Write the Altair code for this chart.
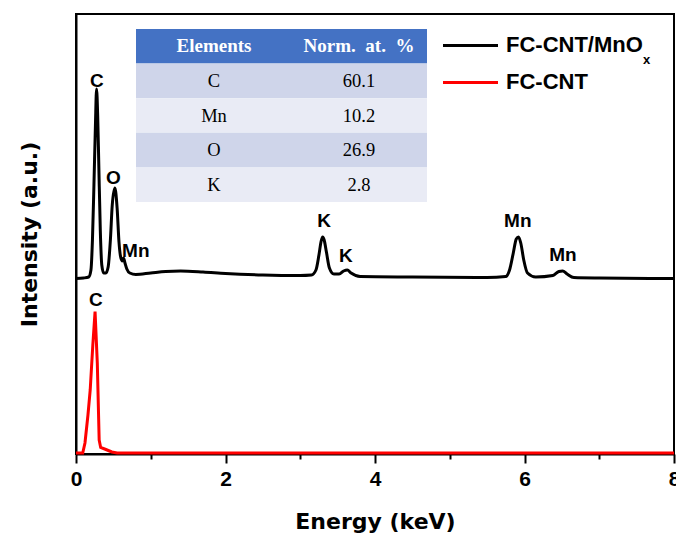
import altair as alt
import pandas as pd

# ---------------- data ----------------
black_energy = [0.0, 0.1, 0.17, 0.2, 0.22, 0.24, 0.26, 0.275, 0.29, 0.305, 0.325, 0.345, 0.37, 0.4,
                0.43, 0.46, 0.485, 0.52, 0.55, 0.575, 0.6, 0.62, 0.635, 0.655, 0.68, 0.72, 0.8,
                1.0, 1.2, 1.4, 1.7, 2.0, 2.5, 3.0, 3.15, 3.21, 3.25, 3.28, 3.3, 3.32, 3.35, 3.39,
                3.45, 3.52, 3.58, 3.63, 3.68, 3.8, 4.5, 5.5, 5.75, 5.8, 5.85, 5.89, 5.92, 5.95,
                5.99, 6.04, 6.15, 6.38, 6.46, 6.51, 6.57, 6.66, 7.0, 8.0]
black_intensity = [175.5, 176, 177, 184, 214, 269, 329, 365, 339, 289, 224, 189, 181, 181,
                   187, 214, 249, 266, 246, 212, 196, 193, 196, 191, 185, 181, 179.5,
                   181, 182.5, 183, 182, 180.5, 179, 178.5, 179, 184, 199, 213, 217, 214, 202, 186,
                   180, 180, 183, 184, 181, 177.5, 177, 176.5, 177.5, 184, 201, 215, 217, 211,
                   194, 181, 177, 178.5, 182.5, 183, 180, 176.5, 176, 175.5]

red_energy = [0.0, 0.09, 0.12, 0.16, 0.19, 0.225, 0.255, 0.285, 0.31, 0.33, 0.4, 0.48, 0.55, 8.0]
red_intensity = [1, 1, 11, 39, 64, 109, 142.5, 91, 14, 6.5, 4.5, 2, 1, 1]

peak_labels = ["C", "O", "Mn", "K", "K", "Mn", "Mn", "C"]
peak_label_energy = [0.28, 0.50, 0.80, 3.32, 3.61, 5.91, 6.515, 0.267]
peak_label_intensity = [373.5, 276, 203, 233, 198, 233, 199, 154]

table_elements = ["Elements", "C", "Mn", "O", "K"]
table_values = ["Norm.\u00a0\u00a0at.\u00a0\u00a0%", "60.1", "10.2", "26.9", "2.8"]
table_rowtype = ["header", "odd", "even", "odd", "even"]

series_names = ["FC-CNT/MnO", "FC-CNT"]
series_colors = ["black", "red"]

# ---------------- frames ----------------
df_black = pd.DataFrame({"energy": black_energy, "intensity": black_intensity})
df_red = pd.DataFrame({"energy": red_energy, "intensity": red_intensity})
df_labels = pd.DataFrame({"label": peak_labels, "energy": peak_label_energy,
                          "intensity": peak_label_intensity})
df_table = pd.DataFrame({"row": list(range(len(table_elements))), "element": table_elements,
                         "value": table_values, "rowtype": table_rowtype})
df_legend = pd.DataFrame({"name": series_names, "color": series_colors})

x_scale = alt.Scale(domain=[0, 8], nice=False, zero=False)
y_scale = alt.Scale(domain=[0, 440], nice=False)

x_axis = alt.Axis(
    values=[0, 1, 2, 3, 4, 5, 6, 7, 8], format="d",
    labelExpr="datum.value % 2 === 0 ? datum.label : ''",
    tickSize={"condition": {"test": "datum.value % 2 === 1", "value": 5}, "value": 9},
    tickColor="black", tickWidth=2, domainColor="black", domainWidth=2,
    labelFont="Liberation Sans", labelFontWeight="bold", labelFontSize=21, labelColor="black",
    labelPadding=5, labelFlush=False, labelOverlap=False,
    title="Energy (keV)", titleFont="DejaVu Sans", titleFontWeight="bold", titleFontSize=22,
    titleColor="black", titlePadding=22, grid=False,
)
y_axis = alt.Axis(
    labels=False, ticks=False, grid=False, domainColor="black", domainWidth=2,
    title="Intensity (a.u.)", titleFont="DejaVu Sans", titleFontWeight="bold", titleFontSize=22,
    titleColor="black", titlePadding=35,
)

black_line = alt.Chart(df_black).mark_line(color="black", strokeWidth=3, interpolate="monotone").encode(
    x=alt.X("energy:Q", scale=x_scale, axis=x_axis),
    y=alt.Y("intensity:Q", scale=y_scale, axis=y_axis),
)
red_line = alt.Chart(df_red).mark_line(color="#ff0000", strokeWidth=3).encode(
    x=alt.X("energy:Q", scale=x_scale),
    y=alt.Y("intensity:Q", scale=y_scale),
)
labels = alt.Chart(df_labels).mark_text(
    font="Liberation Sans", fontWeight="bold", fontSize=19, color="black", baseline="middle", align="center"
).encode(
    x=alt.X("energy:Q", scale=x_scale),
    y=alt.Y("intensity:Q", scale=y_scale),
    text="label:N",
)
main = alt.layer(black_line, red_line, labels)

# ---------------- inset table ----------------
row_scale = alt.Scale(domain=list(range(len(table_elements))), range=[15, 188],
                      paddingInner=0, paddingOuter=0)
table_rect = alt.Chart(df_table).mark_rect().encode(
    x=alt.value(60), x2=alt.value(351),
    y=alt.Y("row:O", scale=row_scale, axis=None),
    color=alt.Color("rowtype:N", scale=alt.Scale(domain=["header", "odd", "even"],
                                                 range=["#4472C4", "#CFD5EA", "#E9EBF5"]),
                    legend=None),
)
header = df_table[df_table["row"] == 0]
body = df_table[df_table["row"] > 0]
header_el = alt.Chart(header).mark_text(font="Liberation Serif", fontWeight="bold", fontSize=19,
                                        color="white", baseline="middle").encode(
    x=alt.value(138), y=alt.Y("row:O", scale=row_scale, axis=None), text="element:N")
header_val = alt.Chart(header).mark_text(font="Liberation Serif", fontWeight="bold", fontSize=19,
                                         color="white", baseline="middle").encode(
    x=alt.value(283), y=alt.Y("row:O", scale=row_scale, axis=None), text="value:N")
body_el = alt.Chart(body).mark_text(font="Liberation Serif", fontSize=18.5,
                                    color="black", baseline="middle").encode(
    x=alt.value(138), y=alt.Y("row:O", scale=row_scale, axis=None), text="element:N")
body_val = alt.Chart(body).mark_text(font="Liberation Serif", fontSize=18.5,
                                     color="black", baseline="middle").encode(
    x=alt.value(283), y=alt.Y("row:O", scale=row_scale, axis=None), text="value:N")
table = alt.layer(table_rect, header_el, header_val, body_el, body_val)

# ---------------- legend ----------------
leg_scale = alt.Scale(type="point", domain=series_names, range=[31.5, 68.5], padding=0)
leg_color = alt.Color("name:N", scale=alt.Scale(domain=series_names, range=series_colors), legend=None)
leg_rule = alt.Chart(df_legend).mark_rule(strokeWidth=3).encode(
    x=alt.value(367), x2=alt.value(422),
    y=alt.Y("name:N", scale=leg_scale, axis=None),
    color=leg_color,
)
leg_text = alt.Chart(df_legend).mark_text(font="Liberation Sans", fontWeight="bold", fontSize=22,
                                          color="black", align="left", baseline="middle", dy=-1).encode(
    x=alt.value(430), y=alt.Y("name:N", scale=leg_scale, axis=None), text="name:N")
leg_sub = alt.Chart(df_legend[df_legend["name"] == series_names[0]]).mark_text(
    font="Liberation Sans", fontWeight="bold", fontSize=13, color="black", align="left",
    baseline="alphabetic", text="x", dy=18).encode(
    x=alt.value(567), y=alt.Y("name:N", scale=leg_scale, axis=None))
legend = alt.layer(leg_rule, leg_text, leg_sub)

chart = alt.layer(main, table, legend).resolve_scale(y="independent", color="independent").properties(
    width=598, height=440,
    padding={"left": 76, "top": 14, "right": 2, "bottom": 81},
    autosize=alt.AutoSizeParams(type="none"),
    background="white",
).configure_view(stroke="black", strokeWidth=2)

chart.save("out.html", embed_options={"renderer": "svg", "actions": False})
